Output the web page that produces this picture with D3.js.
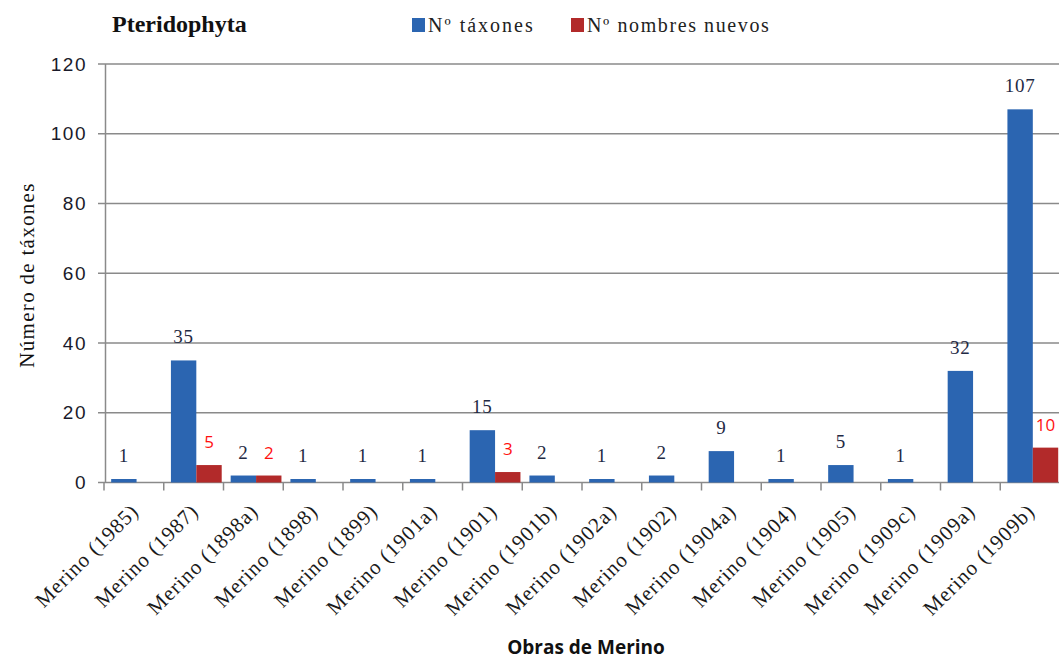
<!DOCTYPE html>
<meta charset="utf-8">
<head>
	<title>Pteridophyta</title>
	<script src="https://d3js.org/d3.v7.min.js" charset="utf-8"></script>
</head>

<style type="text/css">
	body {
		margin: 0;
		background: white;
	}
	svg {
		display: block;
	}
	.grid line {
		stroke: #8a8a8a;
		stroke-width: 1.5px;
	}
</style>

<body>
<script>

	var categories = ["Merino (1985)", "Merino (1987)", "Merino (1898a)", "Merino (1898)",
		"Merino (1899)", "Merino (1901a)", "Merino (1901)", "Merino (1901b)", "Merino (1902a)",
		"Merino (1902)", "Merino (1904a)", "Merino (1904)", "Merino (1905)", "Merino (1909c)",
		"Merino (1909a)", "Merino (1909b)"];
	var taxones = [1, 35, 2, 1, 1, 1, 15, 2, 1, 2, 9, 1, 5, 1, 32, 107];
	var nuevos = [0, 5, 2, 0, 0, 0, 3, 0, 0, 0, 0, 0, 0, 0, 0, 10];
	var yTicks = [0, 20, 40, 60, 80, 100, 120];
	var seriesNames = ["Nº táxones", "Nº nombres nuevos"];

	var width = 1059,
		height = 661;

	var blue = "#2b65b1",
		red = "#b22a2a";

	var serif = "'Liberation Serif', 'Times New Roman', serif",
		sans = "'Open Sans', 'Liberation Sans', sans-serif";

	var svg = d3.select("body").append("svg")
		.attr("width", width)
		.attr("height", height);

	var x = d3.scaleBand()
		.domain(categories)
		.range([104, 1060])
		.padding(0);

	var bw = x.bandwidth();
	var xs = d3.scaleBand()
		.domain(["t", "n"])
		.range([bw * 0.12, bw * 0.97])
		.padding(0);

	var y = d3.scaleLinear()
		.domain([0, 120])
		.range([482.5, 64]);

	// gridlines
	var grid = svg.append("g").attr("class", "grid");
	grid.selectAll("line.h")
		.data(yTicks)
	 .enter().append("line")
		.attr("x1", 98)
		.attr("x2", width)
		.attr("y1", function(d) { return y(d); })
		.attr("y2", function(d) { return y(d); });

	// y axis line
	grid.append("line")
		.attr("x1", 105.5).attr("x2", 105.5)
		.attr("y1", y(120)).attr("y2", y(0));

	// x ticks
	grid.selectAll("line.xt")
		.data(categories)
	 .enter().append("line")
		.attr("x1", function(d) { return x(d); })
		.attr("x2", function(d) { return x(d); })
		.attr("y1", y(0))
		.attr("y2", y(0) + 8);

	var rows = categories.map(function(c, i) {
		return {cat: c, t: taxones[i], n: nuevos[i]};
	});

	var group = svg.selectAll(".cat")
		.data(rows)
	 .enter().append("g")
		.attr("class", "cat")
		.attr("transform", function(d) { return "translate(" + x(d.cat) + ",0)"; });

	group.append("rect")
		.attr("x", xs("t"))
		.attr("width", xs.bandwidth())
		.attr("y", function(d) { return y(d.t); })
		.attr("height", function(d) { return y(0) - y(d.t); })
		.style("fill", blue);

	group.filter(function(d) { return d.n > 0; }).append("rect")
		.attr("x", xs("n"))
		.attr("width", xs.bandwidth())
		.attr("y", function(d) { return y(d.n); })
		.attr("height", function(d) { return y(0) - y(d.n); })
		.style("fill", red);

	group.append("text")
		.attr("x", xs("t") + xs.bandwidth() / 2)
		.attr("y", function(d) { return y(d.t) - 17; })
		.attr("text-anchor", "middle")
		.style("font-family", serif)
		.style("font-size", "19px")
		.style("letter-spacing", "0.8px")
		.style("fill", "#1f2a44")
		.text(function(d) { return d.t; });

	group.filter(function(d) { return d.n > 0; }).append("text")
		.attr("x", xs("n") + xs.bandwidth() / 2)
		.attr("y", function(d) { return y(d.n) - 17; })
		.attr("text-anchor", "middle")
		.style("font-family", sans)
		.style("font-size", "17px")
		.style("fill", "#ff1010")
		.text(function(d) { return d.n; });

	// y tick labels
	svg.selectAll(".ylab")
		.data(yTicks)
	 .enter().append("text")
		.attr("x", 87)
		.attr("y", function(d) { return y(d); })
		.attr("dy", "0.35em")
		.attr("text-anchor", "end")
		.style("font-family", "'Liberation Sans', Arial, sans-serif")
		.style("font-size", "19px")
		.style("letter-spacing", "1.5px")
		.style("fill", "#1a1a2a")
		.text(function(d) { return d; });

	// x labels rotated
	svg.selectAll(".xlab")
		.data(categories)
	 .enter().append("text")
		.attr("transform", function(d) {
			return "translate(" + (x(d) + bw / 2 + 6) + "," + (y(0) + 30) + ") rotate(-45)";
		})
		.attr("text-anchor", "end")
		.style("font-family", serif)
		.style("font-size", "21px")
		.style("letter-spacing", "1px")
		.style("fill", "#1a1a1a")
		.text(function(d) { return d; });

	// axis titles
	svg.append("text")
		.attr("transform", "translate(34,275) rotate(-90)")
		.attr("text-anchor", "middle")
		.style("font-family", serif)
		.style("font-size", "21px")
		.style("letter-spacing", "1.3px")
		.style("fill", "#111")
		.text("Número de táxones");

	svg.append("text")
		.attr("x", 586)
		.attr("y", 654)
		.attr("text-anchor", "middle")
		.style("font-family", sans)
		.style("font-weight", "bold")
		.style("font-size", "19px")
		.style("fill", "#111")
		.text("Obras de Merino");

	// title
	svg.append("text")
		.attr("x", 112)
		.attr("y", 32)
		.style("font-family", serif)
		.style("font-size", "24px")
		.style("font-weight", "bold")
		.style("fill", "#111")
		.text("Pteridophyta");

	// legend
	var legendX = [412, 571];
	var legend = svg.selectAll(".legend")
		.data(seriesNames)
	 .enter().append("g")
		.attr("transform", function(d, i) { return "translate(" + legendX[i] + ",0)"; });

	legend.append("rect")
		.attr("x", 0)
		.attr("y", 18)
		.attr("width", 13)
		.attr("height", 14)
		.style("fill", function(d, i) { return i ? red : blue; });

	legend.append("text")
		.attr("x", 16)
		.attr("y", 32)
		.style("font-family", serif)
		.style("font-size", "20px")
		.style("letter-spacing", function(d, i) { return i ? "1.6px" : "2px"; })
		.style("fill", "#222")
		.text(function(d) { return d; });

</script>
</body>
